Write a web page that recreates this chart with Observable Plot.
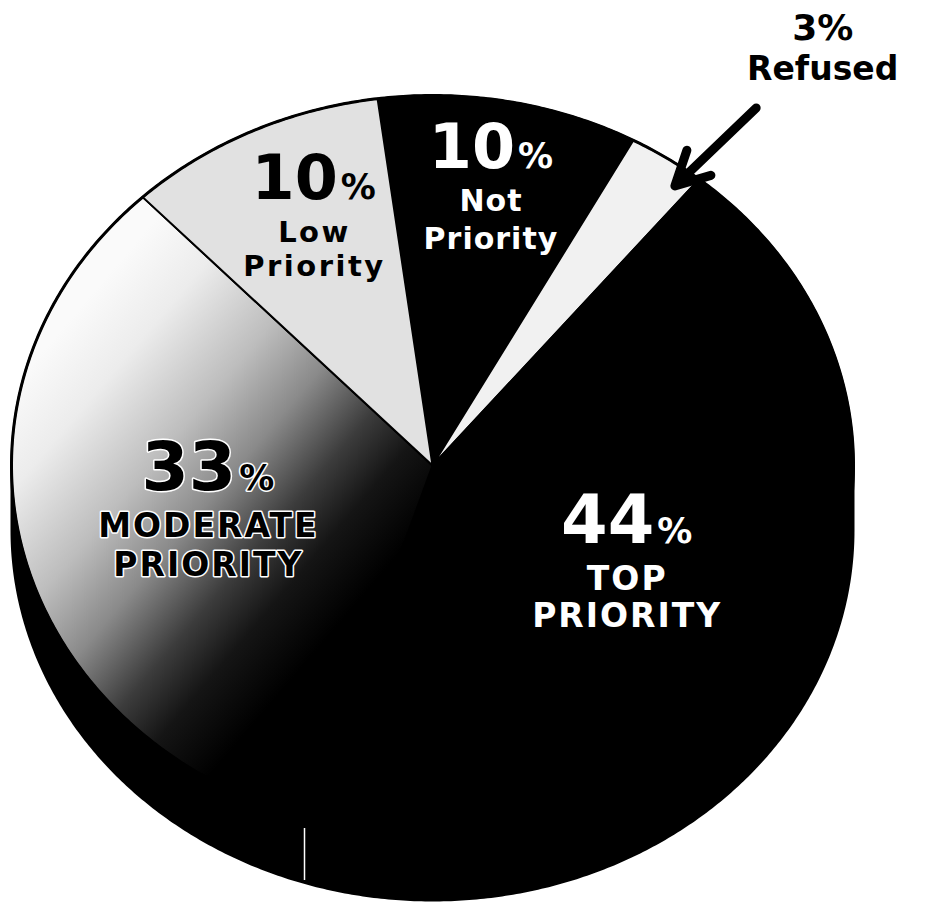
<!DOCTYPE html>
<html><head><meta charset="utf-8">
<script src="https://cdn.jsdelivr.net/npm/d3@7"></script>
<script src="https://cdn.jsdelivr.net/npm/@observablehq/plot@0.6"></script>
<style>html,body{margin:0;padding:0;background:#fff;} svg{display:block;background:#fff}</style>
</head><body><div id="chart"></div>
<script>
// ---- data ----
const categories = ["Not Priority", "Refused", "TOP PRIORITY", "MODERATE PRIORITY", "Low Priority"];
const values = [10, 3, 44, 33, 10];
const pctLabels = ["10", "3", "44", "33", "10"];
const nameLines = [["Not", "Priority"], ["Refused"], ["TOP", "PRIORITY"], ["MODERATE", "PRIORITY"], ["Low", "Priority"]];

// ---- styles / layout ----
const sliceFill = ["#000000", "#f1f1f1", "#000000", "url(#modGrad)", "#e1e1e1"];
const textFill = ["#ffffff", "#000000", "#ffffff", "#000000", "#000000"];
const textHalo = [null, null, null, "#ffffff", null];
const labelAngleShift = [-0.8, 5, -3.9, 5.7, 4];     // degrees from slice mid-angle
const labelRadius = [0.817, 1.476, 0.506, 0.539, 0.773];
const numSize = [62, 36, 67, 68, 62];
const pctSize = [35, 36, 35, 35, 35];
const nameSize = [30, 33, 33, 33, 29];
const nameSpacing = [1, 0, 2, 2, 2.5];
const lineOffsets = [[43, 81], [40], [47, 84], [47, 86], [43, 77]];

const W = 942, H = 908;
const CX = 432, CY = 465, RX = 421, RY = 370, DEPTH = 65;
const rad = d => d * Math.PI / 180;
const START = rad(-7.5);
const P = (t, r = 1) => ({x: CX + RX * r * Math.sin(t), y: CY - RY * r * Math.cos(t)});

const rows = categories.map((c, i) => ({category: c, value: values[i], i}));
const arcs = d3.pie().sort(null).value(d => d.value).startAngle(START).endAngle(START + 2 * Math.PI)(rows);

function arcPts(a0, a1, r = 1, dy = 0) {
  const n = Math.max(2, Math.ceil(Math.abs(a1 - a0) / rad(0.5)));
  return d3.range(n + 1).map(k => { const p = P(a0 + (a1 - a0) * k / n, r); return {x: p.x, y: p.y + dy}; });
}
const apex = P(0, 0);
const slicePolys = arcs.map(a => [apex, ...arcPts(a.startAngle, a.endAngle), apex]);
const sidePoly = [...arcPts(rad(90), rad(270)), ...arcPts(rad(270), rad(90), 1, DEPTH), P(rad(90))];
const rim = arcPts(0, 2 * Math.PI);

// side edge between moderate and top slices
const bEdge = P(arcs[2].endAngle);
const sideEdge = [{x1: bEdge.x, y1: bEdge.y + 10, x2: bEdge.x, y2: bEdge.y + DEPTH - 3}];

// arrow pointing at refused slice
const refA = arcs[1];
const tip = P(refA.endAngle - rad(2), 0.95);
const tail = P(refA.endAngle - rad(0.8), 1.235);
const arrowData = [{x1: tail.x, y1: tail.y, x2: tip.x, y2: tip.y}];

const defsMark = () => {
  const ns = "http://www.w3.org/2000/svg";
  const g = document.createElementNS(ns, "g");
  g.innerHTML = `<defs><linearGradient id="modGrad" gradientUnits="userSpaceOnUse" x1="60" y1="330" x2="400" y2="620">
    <stop offset="0" stop-color="#fafafa"/><stop offset="0.15" stop-color="#ececec"/>
    <stop offset="0.35" stop-color="#bdbdbd"/><stop offset="0.5" stop-color="#8a8a8a"/>
    <stop offset="0.65" stop-color="#3c3c3c"/><stop offset="0.76" stop-color="#151515"/>
    <stop offset="0.9" stop-color="#000"/></linearGradient></defs>`;
  return g;
};

const FONT = "DejaVu Sans";
const textMarks = [];
arcs.forEach((a, i) => {
  const mid = (a.startAngle + a.endAngle) / 2 + rad(labelAngleShift[i]);
  const anc = P(mid, labelRadius[i]);
  const base = {fontFamily: FONT, fontWeight: "bold", lineAnchor: "bottom", fill: textFill[i]};
  if (textHalo[i]) Object.assign(base, {stroke: textHalo[i], strokeWidth: 3, paintOrder: "stroke"});
  if (i === 1) {
    textMarks.push(Plot.text([{x: anc.x, y: anc.y, t: pctLabels[i] + "%"}], {...base, x: "x", y: "y", text: "t", fontSize: numSize[i], textAnchor: "middle"}));
  } else {
    const numW = pctLabels[i].length * 0.696 * numSize[i];
    const pctW = 1.002 * pctSize[i];
    const split = anc.x + (numW - pctW) / 2;
    textMarks.push(Plot.text([{x: split - 1, y: anc.y, t: pctLabels[i]}], {...base, x: "x", y: "y", text: "t", fontSize: numSize[i], textAnchor: "end"}));
    textMarks.push(Plot.text([{x: split + 2, y: anc.y, t: "%"}], {...base, x: "x", y: "y", text: "t", fontSize: pctSize[i], textAnchor: "start"}));
  }
  nameLines[i].forEach((ln, k) => {
    textMarks.push(Plot.text([{x: anc.x + nameSpacing[i] / 2, y: anc.y + lineOffsets[i][k], t: ln}], {...base, x: "x", y: "y", text: "t", fontSize: nameSize[i], textAnchor: "middle", ariaDescription: "name-" + i}));
  });
});

const plot = Plot.plot({
  width: W, height: H, margin: 0,
  x: {type: "identity", axis: null}, y: {type: "identity", axis: null},
  style: {background: "#fff"},
  marks: [
    defsMark,
    Plot.line(sidePoly, {x: "x", y: "y", fill: "#000", stroke: "#000", strokeWidth: 2}),
    ...slicePolys.map((pts, i) => Plot.line(pts, {x: "x", y: "y", fill: sliceFill[i], stroke: "#000", strokeWidth: 2, strokeLinejoin: "round"})),
    Plot.line(rim, {x: "x", y: "y", stroke: "#000", strokeWidth: 3}),
    Plot.link(sideEdge, {x1: "x1", y1: "y1", x2: "x2", y2: "y2", stroke: "#fff", strokeWidth: 1.5}),
    ...textMarks,
    Plot.arrow(arrowData, {x1: "x1", y1: "y1", x2: "x2", y2: "y2", stroke: "#000", strokeWidth: 9, headAngle: 55, headLength: 11})
  ]
});
nameSpacing.forEach((s, i) => {
  d3.select(plot).selectAll(`g[aria-description="name-${i}"] text`).style("letter-spacing", s + "px");
});
document.getElementById("chart").appendChild(plot);
</script>
</body></html>
